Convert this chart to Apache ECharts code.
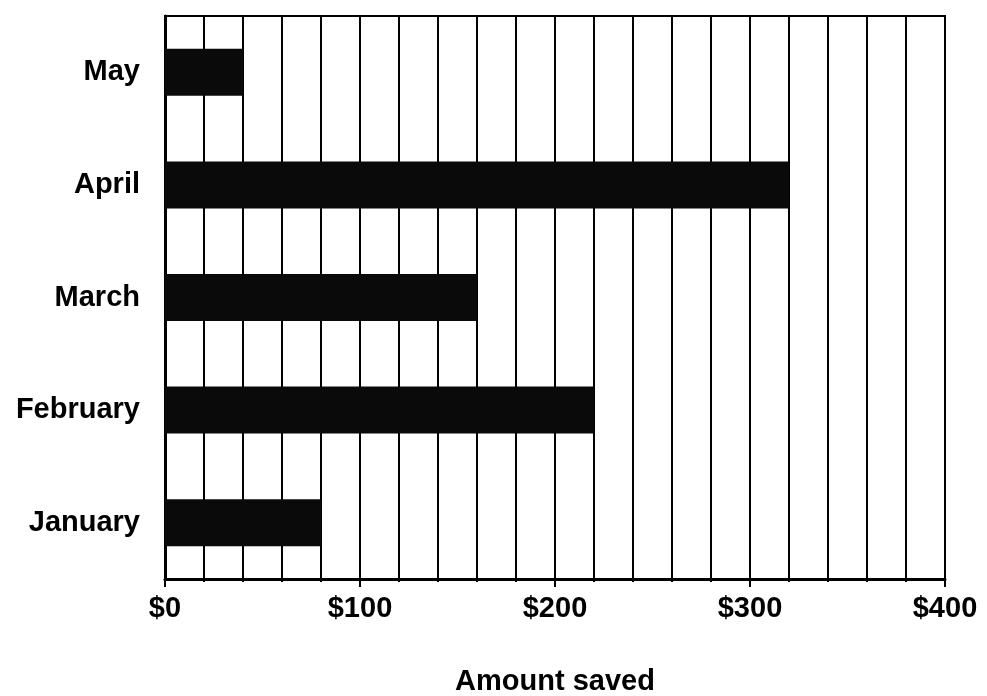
<!DOCTYPE html>
<html><head><meta charset="utf-8">
<script src="https://cdn.jsdelivr.net/npm/echarts@6/dist/echarts.min.js"></script>
<style>html,body{margin:0;padding:0;background:#fff}#c{width:987px;height:696px}</style>
</head><body><div id="c"></div>
<script>
const months = ['January', 'February', 'March', 'April', 'May'];
const saved = [80, 220, 160, 320, 40];
const xTicks = [0, 100, 200, 300, 400];

const chart = echarts.init(document.getElementById('c'));
const font = '"Liberation Sans", Arial, sans-serif';
chart.setOption({
  animation: false,
  backgroundColor: '#fff',
  grid: { left: 165, right: 42, top: 16, bottom: 117, outerBoundsMode: 'none', containLabel: false, show: true, borderColor: '#000', borderWidth: 2, backgroundColor: 'transparent' },
  xAxis: {
    type: 'value', min: xTicks[0], max: xTicks[xTicks.length - 1], interval: 100,
    name: 'Amount saved', nameLocation: 'middle', nameGap: 88,
    nameTextStyle: { fontFamily: font, fontWeight: 'bold', fontSize: 29, color: '#000' },
    axisLine: { show: true, lineStyle: { color: '#000', width: 3 } },
    axisTick: { show: true, length: 8, lineStyle: { color: '#000', width: 2 } },
    minorTick: { show: true, splitNumber: 5, length: 3, lineStyle: { color: '#000', width: 2 } },
    axisLabel: { formatter: v => '$' + v, fontFamily: font, fontWeight: 'bold', fontSize: 29, color: '#000', margin: 15 },
    splitLine: { show: true, lineStyle: { color: '#000', width: 2 } },
    minorSplitLine: { show: true, lineStyle: { color: '#000', width: 2 } }
  },
  yAxis: {
    type: 'category', data: months,
    axisLine: { show: true, lineStyle: { color: '#000', width: 3 } },
    axisTick: { show: false },
    axisLabel: { fontFamily: font, fontWeight: 'bold', fontSize: 29, color: '#000', margin: 25 },
    splitLine: { show: false }
  },
  series: [{
    type: 'bar', data: saved, barWidth: 47,
    itemStyle: { color: '#0a0a0a' }
  }]
});
</script></body></html>
